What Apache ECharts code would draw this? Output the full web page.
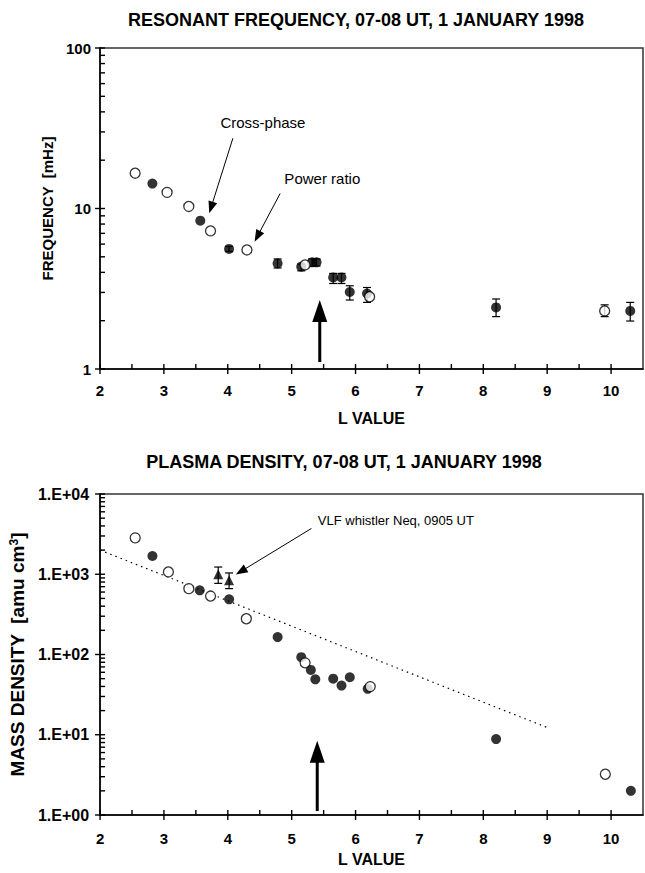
<!DOCTYPE html>
<html>
<head>
<meta charset="utf-8">
<script src="https://cdn.jsdelivr.net/npm/echarts@6/dist/echarts.min.js"></script>
<style>
  html, body { margin: 0; padding: 0; background: #fff; }
  #chart { width: 645px; height: 873px; }
</style>
</head>
<body>
<div id="chart"></div>
<script>
// Resonant frequency (mHz) against L, 07-08 UT, 1 Jan 1998.
// Filled = cross-phase, open = power ratio. Error limits null where none drawn.
const cpL  = [2.82, 3.57, 4.02, 4.78, 5.15, 5.32, 5.39, 5.65, 5.78, 5.91, 6.18, 8.20, 10.30];
const cpF  = [14.3, 8.4, 5.6, 4.55, 4.34, 4.62, 4.62, 3.72, 3.72, 3.02, 2.95, 2.42, 2.30];
const cpLo = [null, null, 5.40, 4.26, 4.09, 4.38, 4.38, 3.41, 3.41, 2.69, 2.60, 2.12, 1.99];
const cpHi = [null, null, 5.80, 4.85, 4.50, 4.85, 4.85, 3.94, 3.94, 3.30, 3.22, 2.73, 2.60];

const prL  = [2.55, 3.05, 3.39, 3.73, 4.30, 5.21, 6.22, 9.90];
const prF  = [16.6, 12.6, 10.3, 7.25, 5.52, 4.45, 2.82, 2.30];
const prLo = [null, null, null, null, null, null, null, 2.12];
const prHi = [null, null, null, null, null, null, null, 2.51];

// Mass density (amu cm^-3) from the same two methods, plus VLF whistler values.
const rcL = [2.82, 3.56, 4.02, 4.78, 5.15, 5.30, 5.37, 5.65, 5.78, 5.91, 6.19, 8.20, 10.31];
const rcD = [1690, 631, 487, 165, 92.6, 64.3, 49, 50, 41, 52, 37.3, 8.84, 2.0];
const roL = [2.55, 3.07, 3.39, 3.73, 4.29, 5.21, 6.23, 9.91];
const roD = [2840, 1069, 662, 535, 279, 78.7, 39.8, 3.22];
const vlfL  = [3.85, 4.02];
const vlfD  = [1000, 841];
const vlfLo = [770, 662];
const vlfHi = [1230, 1038];
const trendL = [2, 9];
const trendD = [2000, 12.3];

// Axis ticks: majors get a crossing tick, minors an inside tick.
const xTicks = [2, 3, 4, 5, 6, 7, 8, 9, 10];
const xMinor = [2.5, 3.5, 4.5, 5.5, 6.5, 7.5, 8.5, 9.5];
const fTicks = [1, 10, 100];
const dTicks = [1, 10, 100, 1000, 10000];
const logSteps = [2, 3, 4, 5, 6, 7, 8, 9];

const FONT = '"Liberation Sans", Arial, sans-serif';

function logMinor(decades) {
  const out = [];
  decades.forEach(d => logSteps.forEach(k => out.push(k * d)));
  return out;
}

function pairs(xs, ys) { return xs.map((x, i) => [x, ys[i]]); }
function bars(xs, lo, hi) {
  return xs.map((x, i) => (lo[i] == null ? null : [x, lo[i], hi[i]])).filter(Boolean);
}

function errBar(params, api) {
  const x = api.value(0);
  const lo = api.coord([x, api.value(1)]);
  const hi = api.coord([x, api.value(2)]);
  const c = 4;
  const st = { stroke: '#000', lineWidth: 1.2 };
  return {
    type: 'group',
    children: [
      { type: 'line', shape: { x1: lo[0], y1: lo[1], x2: hi[0], y2: hi[1] }, style: st },
      { type: 'line', shape: { x1: lo[0] - c, y1: lo[1], x2: lo[0] + c, y2: lo[1] }, style: st },
      { type: 'line', shape: { x1: hi[0] - c, y1: hi[1], x2: hi[0] + c, y2: hi[1] }, style: st },
    ],
  };
}

// tick data rows: [x, y, isMajor, isXAxis]
function tickRows(yMajor, yMinor) {
  return [
    ...xTicks.map(x => [x, 1, 1, 1]),
    ...xMinor.map(x => [x, 1, 0, 1]),
    ...yMajor.map(y => [2, y, 1, 0]),
    ...yMinor.map(y => [2, y, 0, 0]),
  ];
}
function tickMark(params, api) {
  const p = api.coord([api.value(0), api.value(1)]);
  const major = api.value(2) === 1;
  const st = { stroke: '#000', lineWidth: 1.4 };
  if (api.value(3) === 1) {
    return { type: 'line', shape: { x1: p[0], y1: p[1] + (major ? 5 : 0), x2: p[0], y2: p[1] - 5 }, style: st };
  }
  return { type: 'line', shape: { x1: p[0] - (major ? 5 : 0), y1: p[1], x2: p[0] + 5, y2: p[1] }, style: st };
}

const tickLabel = { fontFamily: FONT, fontWeight: 'bold', fontSize: 15, color: '#000' };

function mainX(gridIndex, margin, gap) {
  return {
    gridIndex, type: 'value', min: 2, max: 10.5, position: 'bottom',
    name: 'L VALUE', nameLocation: 'middle', nameGap: gap,
    nameTextStyle: { fontFamily: FONT, fontWeight: 'bold', fontSize: 16, color: '#000' },
    axisLine: { onZero: false, lineStyle: { color: '#000', width: 1.5 } },
    axisTick: { show: false },
    axisLabel: Object.assign({ customValues: xTicks, margin }, tickLabel),
    splitLine: { show: false },
  };
}

const chart = echarts.init(document.getElementById('chart'), null, { renderer: 'svg' });

chart.setOption({
  backgroundColor: '#fff',
  animation: false,
  grid: [
    { left: 100, right: 2, top: 48, height: 321, show: true, borderColor: '#333', borderWidth: 1.5 },
    { left: 100, right: 2, top: 494, height: 321, show: true, borderColor: '#333', borderWidth: 1.5 },
  ],
  xAxis: [mainX(0, 14, 41), mainX(1, 16, 36)],
  yAxis: [
    {
      gridIndex: 0, type: 'log', logBase: 10, min: 1, max: 100, position: 'left',
      name: 'FREQUENCY  [mHz]', nameLocation: 'middle', nameGap: 38,
      nameTextStyle: { fontFamily: FONT, fontWeight: 'bold', fontSize: 15, color: '#000' },
      axisLine: { lineStyle: { color: '#000', width: 1.5 } },
      axisTick: { show: false },
      axisLabel: Object.assign({ customValues: fTicks, margin: 9 }, tickLabel),
      splitLine: { show: false },
    },
    {
      gridIndex: 1, type: 'log', logBase: 10, min: 1, max: 10000, position: 'left',
      name: 'MASS DENSITY  [amu cm{s|3}]', nameLocation: 'middle', nameGap: 66,
      nameTextStyle: {
        fontFamily: FONT, fontWeight: 'bold', fontSize: 19, color: '#000',
        rich: { s: { fontFamily: FONT, fontWeight: 'bold', fontSize: 12, color: '#000', verticalAlign: 'top' } },
      },
      axisLine: { lineStyle: { color: '#000', width: 1.5 } },
      axisTick: { show: false },
      axisLabel: Object.assign({}, tickLabel, {
        customValues: dTicks, margin: 11, fontSize: 16,
        formatter: v => '1.E+0' + Math.round(Math.log10(v)),
      }),
      splitLine: { show: false },
    },
  ],
  series: [
    // axis ticks
    { type: 'custom', xAxisIndex: 0, yAxisIndex: 0, renderItem: tickMark, clip: false, silent: true, z: 5,
      data: tickRows(fTicks, logMinor([1, 10])) },
    { type: 'custom', xAxisIndex: 1, yAxisIndex: 1, renderItem: tickMark, clip: false, silent: true, z: 5,
      data: tickRows(dTicks, logMinor([1, 10, 100, 1000])) },
    // top panel
    { type: 'custom', xAxisIndex: 0, yAxisIndex: 0, renderItem: errBar, encode: { x: 0, y: [1, 2] },
      data: bars(cpL, cpLo, cpHi), silent: true, z: 2 },
    { type: 'custom', xAxisIndex: 0, yAxisIndex: 0, renderItem: errBar, encode: { x: 0, y: [1, 2] },
      data: bars(prL, prLo, prHi), silent: true, z: 2 },
    { name: 'Cross-phase', type: 'scatter', xAxisIndex: 0, yAxisIndex: 0, data: pairs(cpL, cpF),
      symbol: 'circle', symbolSize: 10, itemStyle: { color: '#000' }, z: 3 },
    { name: 'Power ratio', type: 'scatter', xAxisIndex: 0, yAxisIndex: 0, data: pairs(prL, prF),
      symbol: 'circle', symbolSize: 10, itemStyle: { color: '#fff', borderColor: '#000', borderWidth: 1.3 }, z: 4 },
    // bottom panel
    { type: 'line', xAxisIndex: 1, yAxisIndex: 1, data: pairs(trendL, trendD), symbol: 'none',
      lineStyle: { color: '#000', width: 1.2, type: [1.5, 4] }, silent: true, z: 1 },
    { type: 'custom', xAxisIndex: 1, yAxisIndex: 1, renderItem: errBar, encode: { x: 0, y: [1, 2] },
      data: bars(vlfL, vlfLo, vlfHi), silent: true, z: 2 },
    { name: 'VLF whistler', type: 'scatter', xAxisIndex: 1, yAxisIndex: 1, data: pairs(vlfL, vlfD),
      symbol: 'triangle', symbolSize: 10, itemStyle: { color: '#000' }, z: 3 },
    { type: 'scatter', xAxisIndex: 1, yAxisIndex: 1, data: pairs(rcL, rcD),
      symbol: 'circle', symbolSize: 10, itemStyle: { color: '#000' }, z: 3 },
    { type: 'scatter', xAxisIndex: 1, yAxisIndex: 1, data: pairs(roL, roD),
      symbol: 'circle', symbolSize: 10, itemStyle: { color: '#fff', borderColor: '#000', borderWidth: 1.3 }, z: 4 },
  ],
});

// Annotations are placed in data space and converted once the axes exist.
const toTop = p => chart.convertToPixel({ xAxisIndex: 0, yAxisIndex: 0 }, p);
const toBot = p => chart.convertToPixel({ xAxisIndex: 1, yAxisIndex: 1 }, p);

function seg(a, b, w) {
  return { type: 'line', shape: { x1: a[0], y1: a[1], x2: b[0], y2: b[1] },
    style: { stroke: '#000', lineWidth: w }, silent: true, z: 10 };
}
function arrow(tail, tip, headLen, headHalf, width) {
  const dx = tip[0] - tail[0], dy = tip[1] - tail[1];
  const len = Math.hypot(dx, dy);
  const ux = dx / len, uy = dy / len;
  const bx = tip[0] - ux * headLen, by = tip[1] - uy * headLen;
  return [
    seg(tail, [bx + ux, by + uy], width),
    { type: 'polygon', shape: { points: [tip, [bx - uy * headHalf, by + ux * headHalf], [bx + uy * headHalf, by - ux * headHalf]] },
      style: { fill: '#000' }, silent: true, z: 10 },
  ];
}
function label(text, p, opts) {
  return {
    type: 'text', x: p[0], y: p[1], silent: true, z: 10,
    style: Object.assign({ text, fill: '#000', font: '15px ' + FONT, align: 'center', verticalAlign: 'middle' }, opts || {}),
  };
}

chart.setOption({
  graphic: [
    label('RESONANT FREQUENCY, 07-08 UT, 1 JANUARY 1998', [356, 20], { font: 'bold 18px ' + FONT }),
    label('PLASMA DENSITY, 07-08 UT, 1 JANUARY 1998', [344, 462], { font: 'bold 18px ' + FONT }),
    label('Cross-phase', toTop([4.55, 34.1])),
    label('Power ratio', toTop([5.48, 15.3])),
    ...arrow(toTop([4.08, 27.4]), toTop([3.71, 9.33]), 12, 4.5, 1),
    ...arrow(toTop([4.82, 12.4]), toTop([4.42, 6.21]), 12, 4.5, 1),
    ...arrow(toTop([5.44, 1.105]), toTop([5.44, 2.69]), 22, 7.5, 3),
    label('VLF whistler Neq, 0905 UT', toBot([5.41, 4730]), { align: 'left', font: '13px ' + FONT }),
    ...arrow(toBot([5.31, 3724]), toBot([4.125, 991]), 12, 4.5, 1),
    ...arrow(toBot([5.40, 1.12]), toBot([5.40, 8.4]), 22, 7.5, 3),
  ],
});

window.addEventListener('resize', () => chart.resize());
</script>
</body>
</html>
